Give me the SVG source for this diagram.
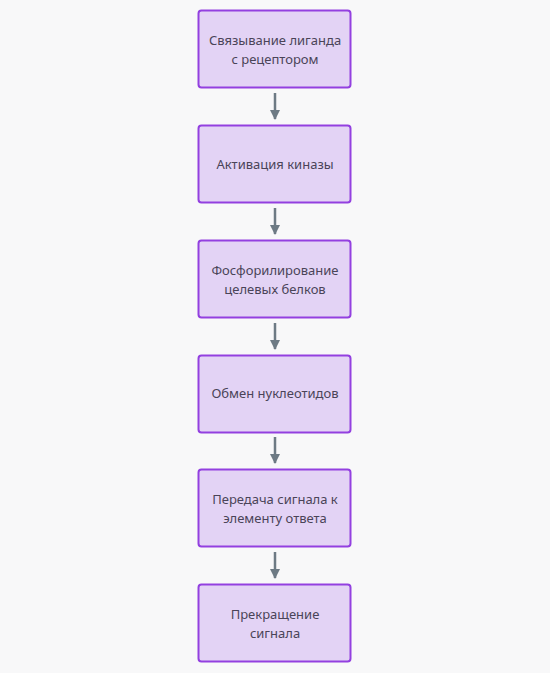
<svg xmlns="http://www.w3.org/2000/svg" width="550" height="673" viewBox="0 0 550 673">
<defs>
<style>
.bg{fill:#f8f8f9}
.box{fill:#e3d3f5;stroke:#9340e0;stroke-width:2}
.t{font-family:"Noto Sans","DejaVu Sans",sans-serif;font-size:13px;fill:#4a4458;text-anchor:middle}
.c{stroke:#6d7a84;stroke-width:2.5;fill:none}
</style>
<marker id="ah" viewBox="0 0 10 10" refX="9" refY="5" markerWidth="4" markerHeight="4" orient="auto" markerUnits="strokeWidth">
<path d="M0,0 L10,5 L0,10 z" fill="#6d7a84"/>
</marker>
</defs>
<rect class="bg" x="0" y="0" width="550" height="673"/>
<g id="connectors">
<line class="c" x1="275" y1="93" x2="275" y2="119" marker-end="url(#ah)"/>
<line class="c" x1="275" y1="208" x2="275" y2="234" marker-end="url(#ah)"/>
<line class="c" x1="275" y1="323" x2="275" y2="349" marker-end="url(#ah)"/>
<line class="c" x1="275" y1="437" x2="275" y2="463" marker-end="url(#ah)"/>
<line class="c" x1="275" y1="552" x2="275" y2="578" marker-end="url(#ah)"/>
</g>
<g id="n1"><rect class="box" x="198.5" y="10.5" width="152" height="77" rx="3"/>
<text class="t" x="275" y="45">Связывание лиганда</text><text class="t" x="275" y="64">с рецептором</text></g>
<g id="n2"><rect class="box" x="198.5" y="125.5" width="152" height="77" rx="3"/>
<text class="t" x="275" y="169">Активация киназы</text></g>
<g id="n3"><rect class="box" x="198.5" y="240.5" width="152" height="77" rx="3"/>
<text class="t" x="275" y="275">Фосфорилирование</text><text class="t" x="275" y="294">целевых белков</text></g>
<g id="n4"><rect class="box" x="198.5" y="355.5" width="152" height="77" rx="3"/>
<text class="t" x="275" y="398">Обмен нуклеотидов</text></g>
<g id="n5"><rect class="box" x="198.5" y="469.5" width="152" height="77" rx="3"/>
<text class="t" x="275" y="504">Передача сигнала к</text><text class="t" x="275" y="523">элементу ответа</text></g>
<g id="n6"><rect class="box" x="198.5" y="584.5" width="152" height="77" rx="3"/>
<text class="t" x="275" y="619">Прекращение</text><text class="t" x="275" y="638">сигнала</text></g>
</svg>
